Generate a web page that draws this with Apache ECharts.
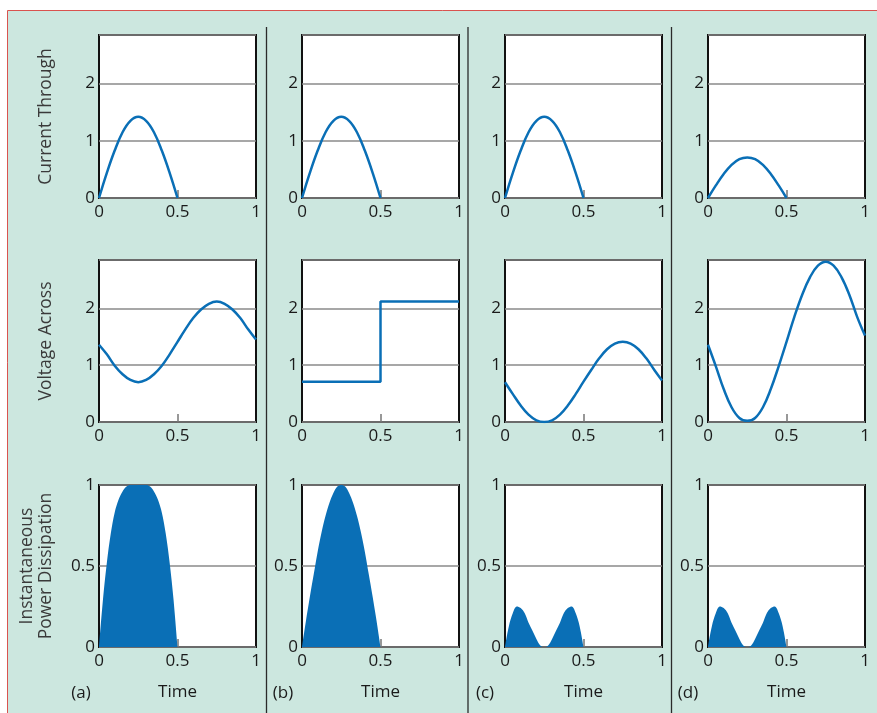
<!DOCTYPE html>
<html>
<head>
<meta charset="utf-8">
<style>html,body{margin:0;padding:0;background:#fff;}#c{width:877px;height:713px;}</style>
<script src="https://cdn.jsdelivr.net/npm/echarts@6/dist/echarts.min.js"></script>
</head>
<body>
<div id="c"></div>
<script>
// ---- data ----
var panelLabels = ['(a)', '(b)', '(c)', '(d)'];
var rowNames = ['Current Through', 'Voltage Across', 'Instantaneous\nPower Dissipation'];
var xTicks = [0, 0.5, 1];
var tHalf = [0, 0.05, 0.1, 0.15, 0.2, 0.25, 0.3, 0.35, 0.4, 0.45, 0.5];
var tFull = [0, 0.05, 0.1, 0.15, 0.2, 0.25, 0.3, 0.35, 0.4, 0.45, 0.5, 0.55, 0.6, 0.65, 0.7, 0.75, 0.8, 0.85, 0.9, 0.95, 1];
var tPower = [0, 0.025, 0.05, 0.075, 0.1, 0.125, 0.15, 0.175, 0.2, 0.225, 0.25, 0.275, 0.3, 0.325, 0.35, 0.375, 0.4, 0.425, 0.45, 0.475, 0.5];

var currentA = [0, 0.44, 0.83, 1.15, 1.35, 1.42, 1.35, 1.15, 0.83, 0.44, 0];
var currentB = [0, 0.44, 0.83, 1.15, 1.35, 1.42, 1.35, 1.15, 0.83, 0.44, 0];
var currentC = [0, 0.44, 0.83, 1.15, 1.35, 1.42, 1.35, 1.15, 0.83, 0.44, 0];
var currentD = [0, 0.22, 0.42, 0.58, 0.68, 0.71, 0.68, 0.58, 0.42, 0.22, 0];

var voltA = [1.36, 1.19, 0.99, 0.84, 0.74, 0.70, 0.74, 0.84, 0.99, 1.19, 1.41, 1.63, 1.83, 1.98, 2.08, 2.12, 2.08, 1.98, 1.83, 1.63, 1.45];
var voltBTime = [0, 0.5, 0.5, 1];
var voltB = [0.71, 0.71, 2.12, 2.12];
var voltC = [0.70, 0.49, 0.29, 0.13, 0.03, 0.0, 0.03, 0.13, 0.29, 0.49, 0.71, 0.92, 1.12, 1.28, 1.38, 1.41, 1.38, 1.28, 1.12, 0.92, 0.73];
var voltD = [1.36, 0.98, 0.58, 0.26, 0.07, 0.02, 0.07, 0.26, 0.58, 0.98, 1.41, 1.85, 2.24, 2.55, 2.75, 2.82, 2.75, 2.55, 2.24, 1.85, 1.52];

var powerA = [0, 0.29, 0.52, 0.70, 0.83, 0.91, 0.96, 0.99, 1.0, 1.0, 1.0, 1.0, 1.0, 0.99, 0.96, 0.91, 0.83, 0.70, 0.52, 0.29, 0];
var powerB = [0, 0.16, 0.31, 0.45, 0.59, 0.71, 0.81, 0.89, 0.95, 0.99, 1.0, 0.99, 0.95, 0.89, 0.81, 0.71, 0.59, 0.45, 0.31, 0.16, 0];
var powerC = [0, 0.13, 0.21, 0.25, 0.24, 0.21, 0.15, 0.10, 0.05, 0.01, 0, 0.01, 0.05, 0.10, 0.15, 0.21, 0.24, 0.25, 0.21, 0.13, 0];
var powerD = [0, 0.13, 0.21, 0.25, 0.24, 0.21, 0.15, 0.10, 0.05, 0.01, 0, 0.01, 0.05, 0.10, 0.15, 0.21, 0.24, 0.25, 0.21, 0.13, 0];

var yMaxRows = [2.85, 2.85, 1];
var yIntervalRows = [1, 1, 0.5];

// ---- layout ----
var FONT = '"Open Sans"';
var BLUE = '#0a6fb6';
var colLeft = [99, 302, 505, 708];
var colWidth = 157;
var rowTop = [35, 260, 485];
var rowHeight = [163, 162, 162];

function pairs(xs, ys) { return xs.map(function (x, i) { return [x, ys[i]]; }); }

var rows = [
  [ {x: tHalf, y: currentA}, {x: tHalf, y: currentB}, {x: tHalf, y: currentC}, {x: tHalf, y: currentD} ],
  [ {x: tFull, y: voltA}, {x: voltBTime, y: voltB, step: true}, {x: tFull, y: voltC}, {x: tFull, y: voltD} ],
  [ {x: tPower, y: powerA, area: true}, {x: tPower, y: powerB, area: true}, {x: tPower, y: powerC, area: true}, {x: tPower, y: powerD, area: true} ]
];

var grids = [], xAxes = [], yAxes = [], series = [];
for (var r = 0; r < 3; r++) {
  for (var c = 0; c < 4; c++) {
    var idx = grids.length;
    grids.push({
      left: colLeft[c], top: rowTop[r], width: colWidth, height: rowHeight[r],
      show: true, backgroundColor: '#ffffff', borderColor: '#111', borderWidth: 2, containLabel: false
    });
    xAxes.push({
      type: 'value', gridIndex: idx, min: 0, max: 1, interval: 0.5,
      axisLine: {show: false},
      axisTick: {show: true, inside: true, length: 8, lineStyle: {color: '#777', width: 1.5}, customValues: [0.5]},
      axisLabel: {color: '#1a1a1a', fontSize: 17, fontFamily: FONT, margin: 6, customValues: xTicks,
        formatter: function (v) { return String(v); }},
      splitLine: {show: false},
      name: r === 2 ? 'Time' : '', nameLocation: 'middle', nameGap: 37,
      nameTextStyle: {color: '#1a1a1a', fontSize: 17, fontFamily: FONT}
    });
    yAxes.push({
      type: 'value', gridIndex: idx, min: 0, max: yMaxRows[r], interval: yIntervalRows[r],
      axisLine: {show: false}, axisTick: {show: false},
      axisLabel: {color: '#1a1a1a', fontSize: 17, fontFamily: FONT, margin: 4, showMaxLabel: r === 2},
      splitLine: {show: true, lineStyle: {color: '#8a8a8a', width: 1.5}},
      name: c === 0 ? rowNames[r] : '', nameLocation: 'middle', nameRotate: 90,
      nameGap: 43,
      nameTextStyle: {color: '#3a3a3a', fontSize: 17.5, fontFamily: FONT, lineHeight: 19}
    });
    var d = rows[r][c];
    var s = {
      type: 'line', xAxisIndex: idx, yAxisIndex: idx, data: pairs(d.x, d.y),
      showSymbol: false, symbol: 'none', animation: false, silent: true,
      lineStyle: {color: BLUE, width: 2.5}
    };
    if (d.step) { s.smooth = false; }
    else if (d.area) { s.smooth = 0.35; s.lineStyle = {color: BLUE, width: 0}; s.areaStyle = {color: BLUE, opacity: 1}; }
    else { s.smooth = 0.4; }
    series.push(s);
  }
}

var graphics = [
  {type: 'rect', z: -10, silent: true, shape: {x: 7.5, y: 10.5, width: 900, height: 720},
   style: {fill: '#cce7df', stroke: '#d9534f', lineWidth: 1}}
];
[266.5, 468, 671.5].forEach(function (x) {
  graphics.push({type: 'line', z: -5, silent: true, shape: {x1: x, y1: 27, x2: x, y2: 713},
    style: {stroke: '#2a2a2a', lineWidth: 1.3}});
});
var labelX = [81, 283, 485, 688];
panelLabels.forEach(function (t, i) {
  graphics.push({type: 'text', silent: true, x: labelX[i], y: 693,
    style: {text: t, fill: '#1a1a1a', font: '17px ' + FONT, align: 'center', verticalAlign: 'middle'}});
});

var chart = echarts.init(document.getElementById('c'), null, {renderer: 'canvas'});
chart.setOption({
  animation: false,
  backgroundColor: '#ffffff',
  grid: grids, xAxis: xAxes, yAxis: yAxes, series: series,
  graphic: {elements: graphics}
});
</script>
</body>
</html>
